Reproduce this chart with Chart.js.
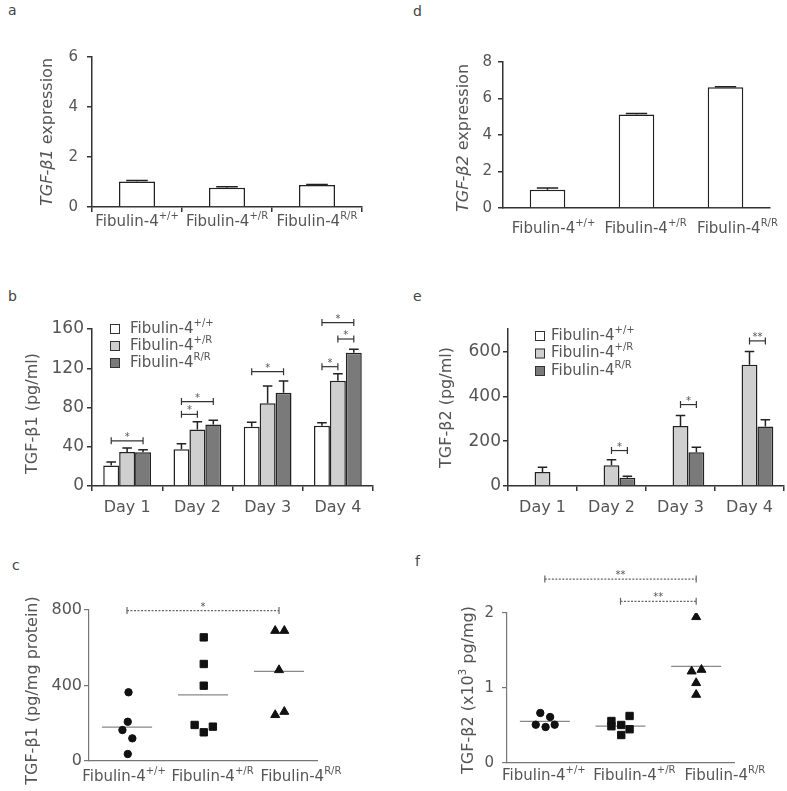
<!DOCTYPE html>
<html>
<head>
<meta charset="utf-8">
<script src="https://cdn.jsdelivr.net/npm/chart.js@4.4.0/dist/chart.umd.min.js"></script>
<style>
  body { margin: 0; background: #fff; width: 787px; height: 791px; overflow: hidden; position: relative; font-family: "DejaVu Sans", sans-serif; }
  canvas { position: absolute; }
  .tag { position: absolute; font-size: 14px; color: #444; }
</style>
</head>
<body>
<div class="tag" style="left:8px;top:2px">a</div>
<div class="tag" style="left:413px;top:3px">d</div>
<div class="tag" style="left:8px;top:288px">b</div>
<div class="tag" style="left:413px;top:288px">e</div>
<div class="tag" style="left:12px;top:557px">c</div>
<div class="tag" style="left:415px;top:553px">f</div>
<canvas id="chartA"></canvas>
<canvas id="chartD"></canvas>
<canvas id="chartB"></canvas>
<canvas id="chartE"></canvas>
<canvas id="chartC"></canvas>
<canvas id="chartF"></canvas>
<script>
// ---- data ----
const genotypes = [['Fibulin-4', '+/+'], ['Fibulin-4', '+/R'], ['Fibulin-4', 'R/R']];
const days = ['Day 1', 'Day 2', 'Day 3', 'Day 4'];

// a: TGF-b1 expression
const aMean = [1.02, 0.77, 0.88];
const aErr = [0.04, 0.04, 0.02];

// d: TGF-b2 expression
const dMean = [1.0, 5.12, 6.62];
const dErr = [0.1, 0.06, 0.03];

// b: TGF-b1 (pg/ml) per day
const bWT = [21, 37.5, 60.5, 61.5];
const bWTErr = [3.5, 5.5, 4.5, 3];
const bHet = [34.7, 57.5, 84.3, 107.3];
const bHetErr = [4, 8, 17.5, 7];
const bHom = [34.5, 62.6, 95, 135.9];
const bHomErr = [2.5, 4.5, 12, 3.5];
const bSig = [
  { cat: 0, from: 0, to: 2, y: 46, mark: '*' },
  { cat: 1, from: 0, to: 1, y: 73, mark: '*' },
  { cat: 1, from: 0, to: 2, y: 86, mark: '*' },
  { cat: 2, from: 0, to: 2, y: 116.5, mark: '*' },
  { cat: 3, from: 0, to: 1, y: 121.6, mark: '*' },
  { cat: 3, from: 1, to: 2, y: 149.8, mark: '*' },
  { cat: 3, from: 0, to: 2, y: 166.5, mark: '*' }
];

// e: TGF-b2 (pg/ml) per day
const eWT = [null, null, null, null];
const eHet = [62, 92, 267, 541];
const eHetErr = [22, 25, 47, 59];
const eHom = [null, 37, 151, 265];
const eHomErr = [0, 7, 22, 30];
const eSig = [
  { cat: 1, from: 1, to: 2, y: 158, mark: '*' },
  { cat: 2, from: 1, to: 2, y: 363, mark: '*' },
  { cat: 3, from: 1, to: 2, y: 647, mark: '**' }
];

// c: TGF-b1 (pg/mg protein), individual animals
const cWT = [364, 208, 164, 120, 37];
const cWTJit = [0.02, 0.01, -0.06, 0.07, 0.01];
const cHet = [655, 514, 399, 191, 152, 182];
const cHetJit = [0.01, 0.01, 0.01, -0.11, 0.01, 0.13];
const cHom = [690, 690, 482, 244, 261];
const cHomJit = [-0.05, 0.07, 0, -0.05, 0.07];
const cMeans = [180, 350, 475];
const cSig = [{ from: 0, to: 2, y: 797, mark: '*' }];

// f: TGF-b2 (x10^3 pg/mg)
const fWT = [0.667, 0.613, 0.511, 0.48, 0.511];
const fWTJit = [-0.06, 0.07, -0.12, 0.01, 0.13];
const fHet = [0.56, 0.49, 0.507, 0.627, 0.45, 0.373];
const fHetJit = [-0.12, -0.12, 0.01, 0.12, 0.12, 0.01];
const fHom = [1.947, 1.222, 1.244, 1.067, 0.911];
const fHomJit = [0, -0.06, 0.07, 0, 0];
const fMeans = [0.556, 0.493, 1.289];
const fSig = [
  { from: 0, to: 2, y: 2.453, mark: '**' },
  { from: 1, to: 2, y: 2.156, mark: '**' }
];

// ---- drawing helpers ----
const FONT = '"DejaVu Sans", sans-serif';
const TXT = '#555';
const AXIS = '#333';
Chart.defaults.font.family = FONT;
Chart.defaults.color = TXT;

const PAD_L = 80, PAD_T = 55, PAD_R = 40, PAD_B = 45;

const genoParts = g => [{ t: g[0] }, { t: g[1], sup: true }];
const plainParts = s => [{ t: s }];

function drawParts(ctx, parts, x, y, size, align) {
  const fonts = parts.map(p => (p.italic ? 'italic ' : '') + (p.sup ? Math.round(size * 0.65) : size) + 'px ' + FONT);
  let total = 0;
  const widths = parts.map((p, i) => {
    ctx.font = fonts[i];
    const w = ctx.measureText(p.t).width;
    total += w;
    return w;
  });
  let cx = align === 'center' ? x - total / 2 : x;
  ctx.textAlign = 'left';
  ctx.textBaseline = 'middle';
  parts.forEach((p, i) => {
    ctx.font = fonts[i];
    ctx.fillText(p.t, cx, p.sup ? y - size * 0.38 : y);
    cx += widths[i];
  });
}

const decor = {
  id: 'decor',
  afterDatasetsDraw(chart, args, o) {
    const ctx = chart.ctx, area = chart.chartArea;
    const xs = chart.scales.x, ys = chart.scales.y;
    ctx.save();

    // error bars (upper half only)
    chart.data.datasets.forEach((ds, di) => {
      if (!ds.errors) return;
      chart.getDatasetMeta(di).data.forEach((el, i) => {
        const v = ds.data[i], e = ds.errors[i];
        if (v == null || !e) return;
        const top = ys.getPixelForValue(v + e);
        const w = el.width * 0.3;
        ctx.strokeStyle = '#222';
        ctx.lineWidth = 1.5;
        ctx.beginPath();
        ctx.moveTo(el.x, el.y); ctx.lineTo(el.x, top);
        ctx.moveTo(el.x - w, top); ctx.lineTo(el.x + w, top);
        ctx.stroke();
      });
    });

    // significance brackets
    (o.brackets || []).forEach(b => {
      let x1, x2;
      if (b.cat != null) {
        x1 = chart.getDatasetMeta(b.from).data[b.cat].x;
        x2 = chart.getDatasetMeta(b.to).data[b.cat].x;
      } else {
        x1 = xs.getPixelForValue(b.from);
        x2 = xs.getPixelForValue(b.to);
      }
      const y = ys.getPixelForValue(b.y);
      ctx.strokeStyle = o.bracketColor || '#333';
      ctx.lineWidth = 1.2;
      ctx.setLineDash(o.bracketDash || []);
      ctx.beginPath();
      ctx.moveTo(x1, y); ctx.lineTo(x2, y);
      ctx.stroke();
      ctx.setLineDash([]);
      ctx.beginPath();
      ctx.moveTo(x1, y - 3.5); ctx.lineTo(x1, y + 3.5);
      ctx.moveTo(x2, y - 3.5); ctx.lineTo(x2, y + 3.5);
      ctx.stroke();
      ctx.fillStyle = '#555';
      ctx.font = '10px ' + FONT;
      ctx.textAlign = 'center';
      ctx.textBaseline = 'alphabetic';
      ctx.fillText(b.mark, (x1 + x2) / 2, y - 1);
    });

    // category labels under the axis
    ctx.fillStyle = TXT;
    const p0 = xs.getPixelForValue(0);
    const step = o.labelStep || (xs.getPixelForValue(1) - p0);
    o.xLabels.forEach((lab, i) => {
      drawParts(ctx, lab, p0 + (o.labelDx || 0) + i * step, area.bottom + o.labelDy, o.labelSize, 'center');
    });

    // rotated y title
    ctx.save();
    ctx.translate(area.left - o.titleDx, (area.top + area.bottom) / 2 + (o.titleDy || 0));
    ctx.rotate(-Math.PI / 2);
    drawParts(ctx, o.yTitle, 0, 0, o.titleSize || 16, 'center');
    ctx.restore();

    // legend
    if (o.legend) {
      const L = o.legend;
      chart.data.datasets.forEach((ds, i) => {
        const yy = area.top + L.dy + i * L.gap;
        const bx = area.left + L.dx;
        ctx.fillStyle = ds.backgroundColor;
        ctx.fillRect(bx, yy - 5, 10, 10);
        ctx.strokeStyle = '#333';
        ctx.lineWidth = 1;
        ctx.strokeRect(bx + 0.5, yy - 4.5, 9, 9);
        ctx.fillStyle = TXT;
        drawParts(ctx, genoParts(L.labels[i]), bx + L.textDx, yy, L.size, 'left');
      });
    }
    ctx.restore();
  }
};

function place(id, box) {
  const c = document.getElementById(id);
  c.width = box.ar - box.ax + PAD_L + PAD_R;
  c.height = box.ab - box.at + PAD_T + PAD_B;
  c.style.left = (box.ax - PAD_L) + 'px';
  c.style.top = (box.at - PAD_T) + 'px';
  c.style.width = c.width + 'px';
  c.style.height = c.height + 'px';
  return c;
}

function yAxis(max, step, size, pad, dashed) {
  return {
    min: 0, max: max,
    ticks: { stepSize: step, font: { size: size }, color: TXT, padding: pad },
    grid: { drawOnChartArea: false, drawTicks: true, tickLength: 5, color: dashed ? '#777' : AXIS, lineWidth: dashed ? 1.2 : 1.5 },
    border: dashed ? { color: '#777', width: 1.2, dash: [3, 2] } : { color: AXIS, width: 1.5 },
    afterFit: s => { s.width = PAD_L; }
  };
}

function barChart(id, box, labels, sets, o) {
  return new Chart(place(id, box), {
    type: 'bar',
    data: {
      labels: labels,
      datasets: sets.map(s => ({
        data: s.data, errors: s.err, backgroundColor: s.color,
        borderColor: '#222', borderWidth: 1.5,
        categoryPercentage: o.catPct, barPercentage: 1
      }))
    },
    options: {
      responsive: false, animation: false, events: [],
      layout: { padding: { top: PAD_T, right: PAD_R, left: 0, bottom: 0 } },
      plugins: { legend: { display: false }, tooltip: { enabled: false }, decor: o.decor },
      scales: {
        x: {
          offset: true,
          ticks: { display: false },
          grid: { display: o.xTicks, drawOnChartArea: false, drawTicks: true, tickLength: 5, offset: true, color: AXIS, lineWidth: 1.5 },
          border: { color: AXIS, width: 1.5 },
          afterFit: s => { s.height = PAD_B; }
        },
        y: o.y
      }
    },
    plugins: [decor]
  });
}

function dotChart(id, box, groups, means, o) {
  const styles = ['circle', 'rect', 'triangle'];
  const radii = [3.7, 5.2, 5.2];
  const pts = groups.map((g, gi) => ({
    data: g.vals.map((v, i) => ({ x: gi + g.jit[i], y: v })),
    pointStyle: styles[gi], pointRadius: radii[gi],
    backgroundColor: '#111', borderColor: '#111', borderWidth: 1,
    showLine: false, order: 1
  }));
  const lines = means.map((m, i) => ({
    type: 'line',
    data: [{ x: i - 0.33, y: m }, { x: i + 0.33, y: m }],
    borderColor: '#888', borderWidth: 1.2, pointRadius: 0, order: 2
  }));
  return new Chart(place(id, box), {
    type: 'scatter',
    data: { datasets: pts.concat(lines) },
    options: {
      responsive: false, animation: false, events: [],
      layout: { padding: { top: PAD_T, right: PAD_R, left: 0, bottom: 0 } },
      plugins: { legend: { display: false }, tooltip: { enabled: false }, decor: o.decor },
      scales: {
        x: {
          type: 'linear', min: -0.5, max: 2.5,
          ticks: { display: false },
          grid: { display: false },
          border: { color: '#777', width: 1.2, dash: [3, 2] },
          afterFit: s => { s.height = PAD_B; }
        },
        y: o.y
      }
    },
    plugins: [decor]
  });
}

const WHITE = '#ffffff', LIGHT = '#cfcfcf', DARK = '#7a7a7a';
const t1 = [{ t: 'TGF-β1', italic: true }, { t: ' expression' }];
const t2 = [{ t: 'TGF-β2', italic: true }, { t: ' expression' }];

// a
barChart('chartA', { ax: 92, ar: 362, at: 57, ab: 207.5 }, genotypes.map(g => g.join('')),
  [{ data: aMean, err: aErr, color: WHITE }],
  { catPct: 0.4, xTicks: true, y: yAxis(6, 2, 15, 9),
    decor: { xLabels: genotypes.map(genoParts), labelDy: 15, labelSize: 15, yTitle: t1, titleDx: 44, titleDy: 0 } });

// d
barChart('chartD', { ax: 503, ar: 770, at: 62, ab: 208 }, genotypes.map(g => g.join('')),
  [{ data: dMean, err: dErr, color: WHITE }],
  { catPct: 0.4, xTicks: false, y: yAxis(8, 2, 15, 6),
    decor: { xLabels: genotypes.map(genoParts), labelDy: 21, labelSize: 15, labelDx: 6, labelStep: 92, yTitle: t2, titleDx: 39, titleDy: 3 } });

// b
barChart('chartB', { ax: 92, ar: 373, at: 329, ab: 486 }, days,
  [{ data: bWT, err: bWTErr, color: WHITE }, { data: bHet, err: bHetErr, color: LIGHT }, { data: bHom, err: bHomErr, color: DARK }],
  { catPct: 0.68, xTicks: true, y: yAxis(160, 40, 17, 3),
    decor: { xLabels: days.map(plainParts), labelDy: 22, labelSize: 16, brackets: bSig,
      yTitle: [{ t: 'TGF-β1 (pg/ml)' }], titleDx: 59, titleDy: 6,
      legend: { labels: genotypes, dx: 18, dy: 0, gap: 17, textDx: 20, size: 15 } } });

// e
barChart('chartE', { ax: 508, ar: 784, at: 329, ab: 486 }, days,
  [{ data: eWT, color: WHITE }, { data: eHet, err: eHetErr, color: LIGHT }, { data: eHom, err: eHomErr, color: DARK }],
  { catPct: 0.69, xTicks: true,
    y: Object.assign(yAxis(700, 200, 17, 2), { afterBuildTicks: s => { s.ticks = s.ticks.filter(t => t.value % 200 === 0); } }),
    decor: { xLabels: days.map(plainParts), labelDy: 22, labelSize: 16, brackets: eSig,
      yTitle: [{ t: 'TGF-β2 (pg/ml)' }], titleDx: 61, titleDy: 0,
      legend: { labels: genotypes, dx: 27, dy: 7, gap: 17.5, textDx: 16, size: 15 } } });

// c
dotChart('chartC', { ax: 89, ar: 317, at: 610, ab: 761 },
  [{ vals: cWT, jit: cWTJit }, { vals: cHet, jit: cHetJit }, { vals: cHom, jit: cHomJit }], cMeans,
  { y: yAxis(800, 400, 16, 2, true),
    decor: { xLabels: genotypes.map(genoParts), labelDy: 16, labelSize: 15, labelDx: -3, labelStep: 88.5,
      brackets: cSig, bracketColor: '#666', bracketDash: [2, 1.5],
      yTitle: [{ t: 'TGF-β1 (pg/mg protein)' }], titleDx: 56, titleDy: 5 } });

// f
dotChart('chartF', { ax: 507, ar: 734, at: 613, ab: 763 },
  [{ vals: fWT, jit: fWTJit }, { vals: fHet, jit: fHetJit }, { vals: fHom, jit: fHomJit }], fMeans,
  { y: yAxis(2, 1, 15, 8, true),
    decor: { xLabels: genotypes.map(genoParts), labelDy: 13, labelSize: 15, labelDx: -1, labelStep: 90.5,
      brackets: fSig, bracketColor: '#666', bracketDash: [2, 1.5],
      yTitle: [{ t: 'TGF-β2 (x10' }, { t: '3', sup: true }, { t: ' pg/mg)' }], titleDx: 38, titleDy: 2 } });
</script>
</body>
</html>
